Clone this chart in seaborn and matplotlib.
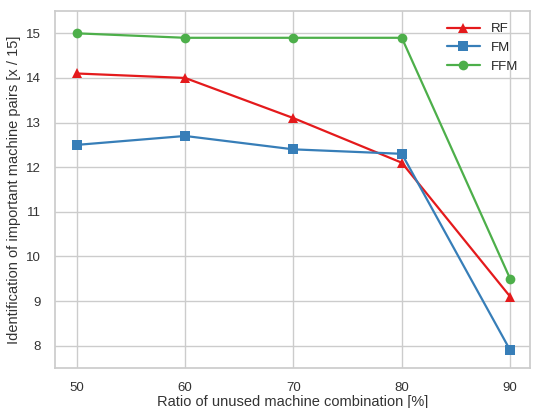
import pandas as pd
import matplotlib
matplotlib.use('Agg')
import matplotlib.pyplot as plt
import seaborn as sns

# Ratio of unused machine combination [%]
ratios = [50, 60, 70, 80, 90]
rf_scores = [14.1, 14.0, 13.1, 12.1, 9.1]
fm_scores = [12.5, 12.7, 12.4, 12.3, 7.9]
ffm_scores = [15.0, 14.9, 14.9, 14.9, 9.5]
models = ['RF', 'FM', 'FFM']

sns.set_theme(style='whitegrid')
plt.rcParams['font.family'] = ['Liberation Sans', 'DejaVu Sans']

df = pd.DataFrame({
    'ratio': ratios * 3,
    'score': rf_scores + fm_scores + ffm_scores,
    'model': ['RF'] * 5 + ['FM'] * 5 + ['FFM'] * 5,
})

palette = {'RF': '#e41a1c', 'FM': '#377eb8', 'FFM': '#4daf4a'}
markers = {'RF': '^', 'FM': 's', 'FFM': 'o'}

fig = plt.figure(figsize=(5.35, 4.08), dpi=100)
ax = fig.add_axes([0.103, 0.098, 0.887, 0.875])
sns.lineplot(data=df, x='ratio', y='score', hue='model', style='model',
             hue_order=models, style_order=models, palette=palette,
             markers=markers, dashes=False, markersize=7, linewidth=1.6,
             markeredgewidth=0, ax=ax)

ax.set_xlim(48, 91.8)
ax.set_ylim(7.5, 15.5)
ax.set_xticks(ratios)
ax.set_yticks(range(8, 16))
ax.tick_params(labelsize=9.5, colors='#333333', pad=4)
ax.set_xlabel('Ratio of unused machine combination [%]', fontsize=10.5,
              color='#333333', labelpad=1)
ax.set_ylabel('Identification of important machine pairs [x / 15]', fontsize=10.5,
              color='#333333', labelpad=4)
ax.legend(frameon=False, fontsize=9.5, loc='upper right', handlelength=2.5)

fig.savefig('out.png', dpi=100)
